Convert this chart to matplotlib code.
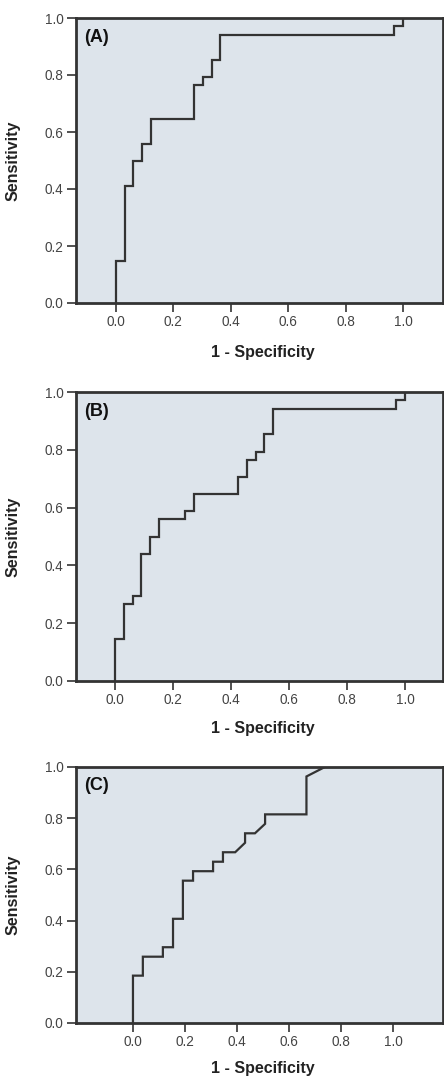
import matplotlib
matplotlib.use("Agg")
import matplotlib.pyplot as plt

plt.rcParams['font.family'] = ['Liberation Sans', 'DejaVu Sans']

# ROC curve vertices (1 - specificity, sensitivity)
fpr_a = [0, 0, 0.030, 0.030, 0.061, 0.061, 0.091, 0.091, 0.121, 0.121, 0.273, 0.273,
         0.303, 0.303, 0.333, 0.333, 0.364, 0.364, 0.970, 0.970, 1.0, 1.0]
tpr_a = [0, 0.147, 0.147, 0.412, 0.412, 0.500, 0.500, 0.559, 0.559, 0.647, 0.647, 0.765,
         0.765, 0.794, 0.794, 0.853, 0.853, 0.941, 0.941, 0.971, 0.971, 1.0]

fpr_b = [0, 0, 0.030, 0.030, 0.061, 0.061, 0.091, 0.091, 0.121, 0.121, 0.152, 0.152,
         0.242, 0.242, 0.273, 0.273, 0.424, 0.424, 0.455, 0.455, 0.485, 0.485,
         0.515, 0.515, 0.545, 0.545, 0.970, 0.970, 1.0, 1.0]
tpr_b = [0, 0.147, 0.147, 0.265, 0.265, 0.294, 0.294, 0.441, 0.441, 0.500, 0.500, 0.559,
         0.559, 0.588, 0.588, 0.647, 0.647, 0.706, 0.706, 0.765, 0.765, 0.794,
         0.794, 0.853, 0.853, 0.941, 0.941, 0.971, 0.971, 1.0]

fpr_c = [0, 0, 0.038, 0.038, 0.115, 0.115, 0.154, 0.154, 0.192, 0.192, 0.231, 0.231,
         0.308, 0.308, 0.346, 0.346, 0.393, 0.431, 0.431, 0.469, 0.508, 0.508,
         0.667, 0.667, 0.738, 1.0]
tpr_c = [0, 0.185, 0.185, 0.259, 0.259, 0.296, 0.296, 0.407, 0.407, 0.556, 0.556, 0.593,
         0.593, 0.630, 0.630, 0.667, 0.667, 0.704, 0.741, 0.741, 0.778, 0.815,
         0.815, 0.963, 1.0, 1.0]

panel_labels = ["(A)", "(B)", "(C)"]
ticks = [0.0, 0.2, 0.4, 0.6, 0.8, 1.0]
tick_labels = ["0.0", "0.2", "0.4", "0.6", "0.8", "1.0"]

BG = "#dde4eb"
DARK = "#333333"
TEXT = "#444444"

W, H = 444, 1077
fig = plt.figure(figsize=(W / 100, H / 100), dpi=100)

# pixel boxes: left, top, right, bottom ; xlim ; xlabel top in axes coords
layout = [
    ((76, 18, 443, 303), (-0.139, 1.139), -0.147),
    ((76, 392, 443, 681), (-0.134, 1.131), -0.138),
    ((76, 767, 443, 1023), (-0.219, 1.192), -0.150),
]
curves = [(fpr_a, tpr_a), (fpr_b, tpr_b), (fpr_c, tpr_c)]

for (box, xlim, xl_y), (fx, ty), lab in zip(layout, curves, panel_labels):
    l, t, r, b = box
    ax = fig.add_axes([l / W, 1 - b / H, (r - l) / W, (b - t) / H])
    ax.set_facecolor(BG)
    ax.plot(fx, ty, color=DARK, lw=1.6, solid_joinstyle="miter")
    ax.set_xlim(xlim)
    ax.set_ylim(0, 1)
    ax.set_xticks(ticks)
    ax.set_xticklabels(tick_labels)
    ax.set_yticks(ticks)
    ax.set_yticklabels(tick_labels)
    ax.tick_params(length=6.5, width=1.2, color=DARK, labelcolor=TEXT,
                   labelsize=9.8, pad=2.5)
    for sp in ax.spines.values():
        sp.set_linewidth(2)
        sp.set_color(DARK)
    ax.set_xlabel("1 - Specificity", fontsize=11.5, fontweight="bold", color="#222222")
    ax.xaxis.set_label_coords(0.51, xl_y)
    ax.set_ylabel("Sensitivity", fontsize=11.5, fontweight="bold", color="#222222")
    ax.yaxis.set_label_coords(-0.15, 0.5)
    ax.text(0.022, 0.962, lab, transform=ax.transAxes, ha="left", va="top",
            fontsize=13, fontweight="bold", color="#111111")

fig.savefig("out.png", dpi=100)
